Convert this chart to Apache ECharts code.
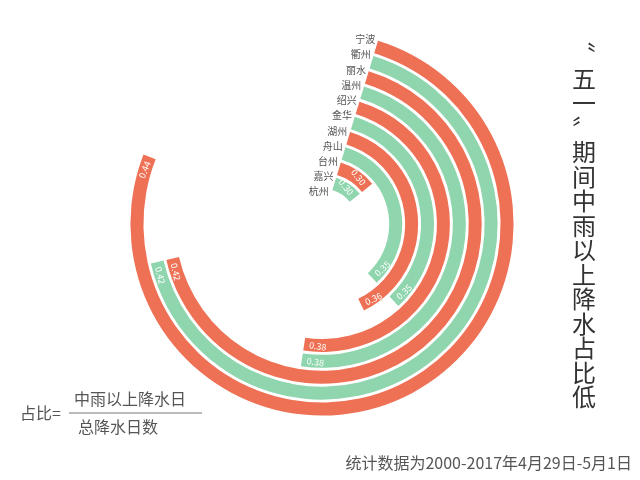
<!DOCTYPE html>
<html>
<head>
<meta charset="utf-8">
<style>
  html, body { margin: 0; padding: 0; background: #fff; }
  #main { width: 640px; height: 480px; }
</style>
<script src="https://cdn.jsdelivr.net/npm/echarts@6/dist/echarts.min.js"></script>
</head>
<body>
<div id="main"></div>
<script>
// city names written along the start line, inner -> outer
const cities = ['杭州', '嘉兴', '台州', '舟山', '湖州', '金华', '绍兴', '温州', '丽水', '衢州', '宁波'];
// ring values as printed at the end of each ring, inner -> outer (10 rings in the picture)
const ringValues = [0.30, 0.30, 0.35, 0.36, 0.35, 0.38, 0.38, 0.42, 0.42, 0.44];
const ringIds = ringValues.map((v, i) => 'ring' + (i + 1));

// the angle scale does not start at 0: rings start at this value and a full turn spans ANGLE_RANGE
const ANGLE_BASE = 0.28;
const ANGLE_RANGE = 0.21;
const START_ANGLE = 73;

const titleText = '〝五一〞期间中雨以上降水占比低';
const ratioLabel = '占比=';
const numerText = '中雨以上降水日';
const denomText = '总降水日数';
const footText = '统计数据为2000-2017年4月29日-5月1日';

const FONT = '"Noto Sans CJK SC", "Noto Sans", sans-serif';
const ORANGE = '#ee7155';
const GREEN = '#8fd5ae';
const cx = 322, cy = 224;

// turn the value text round where it would otherwise be upside down
// (numeric rotate on a polar bar label is taken in radians)
function ringItem(v) {
  const a = (90 - START_ANGLE) + (v - ANGLE_BASE) / ANGLE_RANGE * 360;
  const item = { value: +(v - ANGLE_BASE).toFixed(4) };
  if (a > 90 && a < 270) item.label = { rotate: (180 - a) * Math.PI / 180, align: 'left' };
  return item;
}

const chart = echarts.init(document.getElementById('main'));

chart.setOption({
  backgroundColor: '#fff',
  textStyle: { fontFamily: FONT },
  polar: [
    { center: [cx, cy], radius: [34, 193] },
    { center: [cx, cy], radius: [25, 200] }
  ],
  angleAxis: [
    { polarIndex: 0, type: 'value', min: 0, max: ANGLE_RANGE, startAngle: START_ANGLE, clockwise: true, show: false },
    { polarIndex: 1, type: 'value', min: 0, max: 1, startAngle: START_ANGLE, show: false }
  ],
  radiusAxis: [
    { polarIndex: 0, type: 'category', data: ringIds, show: false },
    {
      polarIndex: 1,
      type: 'category',
      data: cities,
      z: 10,
      axisLine: { show: false },
      axisTick: { show: false },
      splitLine: { show: false },
      axisLabel: { interval: 0, color: '#555', fontSize: 10, margin: 3, fontFamily: FONT }
    }
  ],
  series: [{
    type: 'bar',
    coordinateSystem: 'polar',
    polarIndex: 0,
    data: ringValues.map(ringItem),
    barWidth: 13,
    itemStyle: {
      color: p => (p.dataIndex % 2 ? ORANGE : GREEN)
    },
    label: {
      show: true,
      position: 'insideEnd',
      color: '#fff',
      fontSize: 9,
      fontFamily: FONT,
      formatter: p => ringValues[p.dataIndex].toFixed(2)
    },
    silent: true
  }],
  graphic: [
    {
      type: 'text',
      left: 572, top: 42,
      style: {
        text: titleText.split('').join('\n'),
        font: '24px ' + FONT,
        lineHeight: 24.5,
        fill: '#333',
        align: 'center'
      }
    },
    {
      type: 'text', x: 20, y: 413,
      style: { text: ratioLabel, font: '16px ' + FONT, fill: '#555', verticalAlign: 'middle' }
    },
    {
      type: 'line',
      shape: { x1: 69, y1: 413, x2: 202, y2: 413 },
      style: { stroke: '#777', lineWidth: 1 }
    },
    {
      type: 'text', x: 130, y: 399,
      style: { text: numerText, font: '16px ' + FONT, fill: '#555', align: 'center', verticalAlign: 'middle' }
    },
    {
      type: 'text', x: 118, y: 427,
      style: { text: denomText, font: '16px ' + FONT, fill: '#555', align: 'center', verticalAlign: 'middle' }
    },
    {
      type: 'text', x: 632, y: 463,
      style: { text: footText, font: '16px ' + FONT, fill: '#555', align: 'right', verticalAlign: 'middle' }
    }
  ]
});
</script>
</body>
</html>
